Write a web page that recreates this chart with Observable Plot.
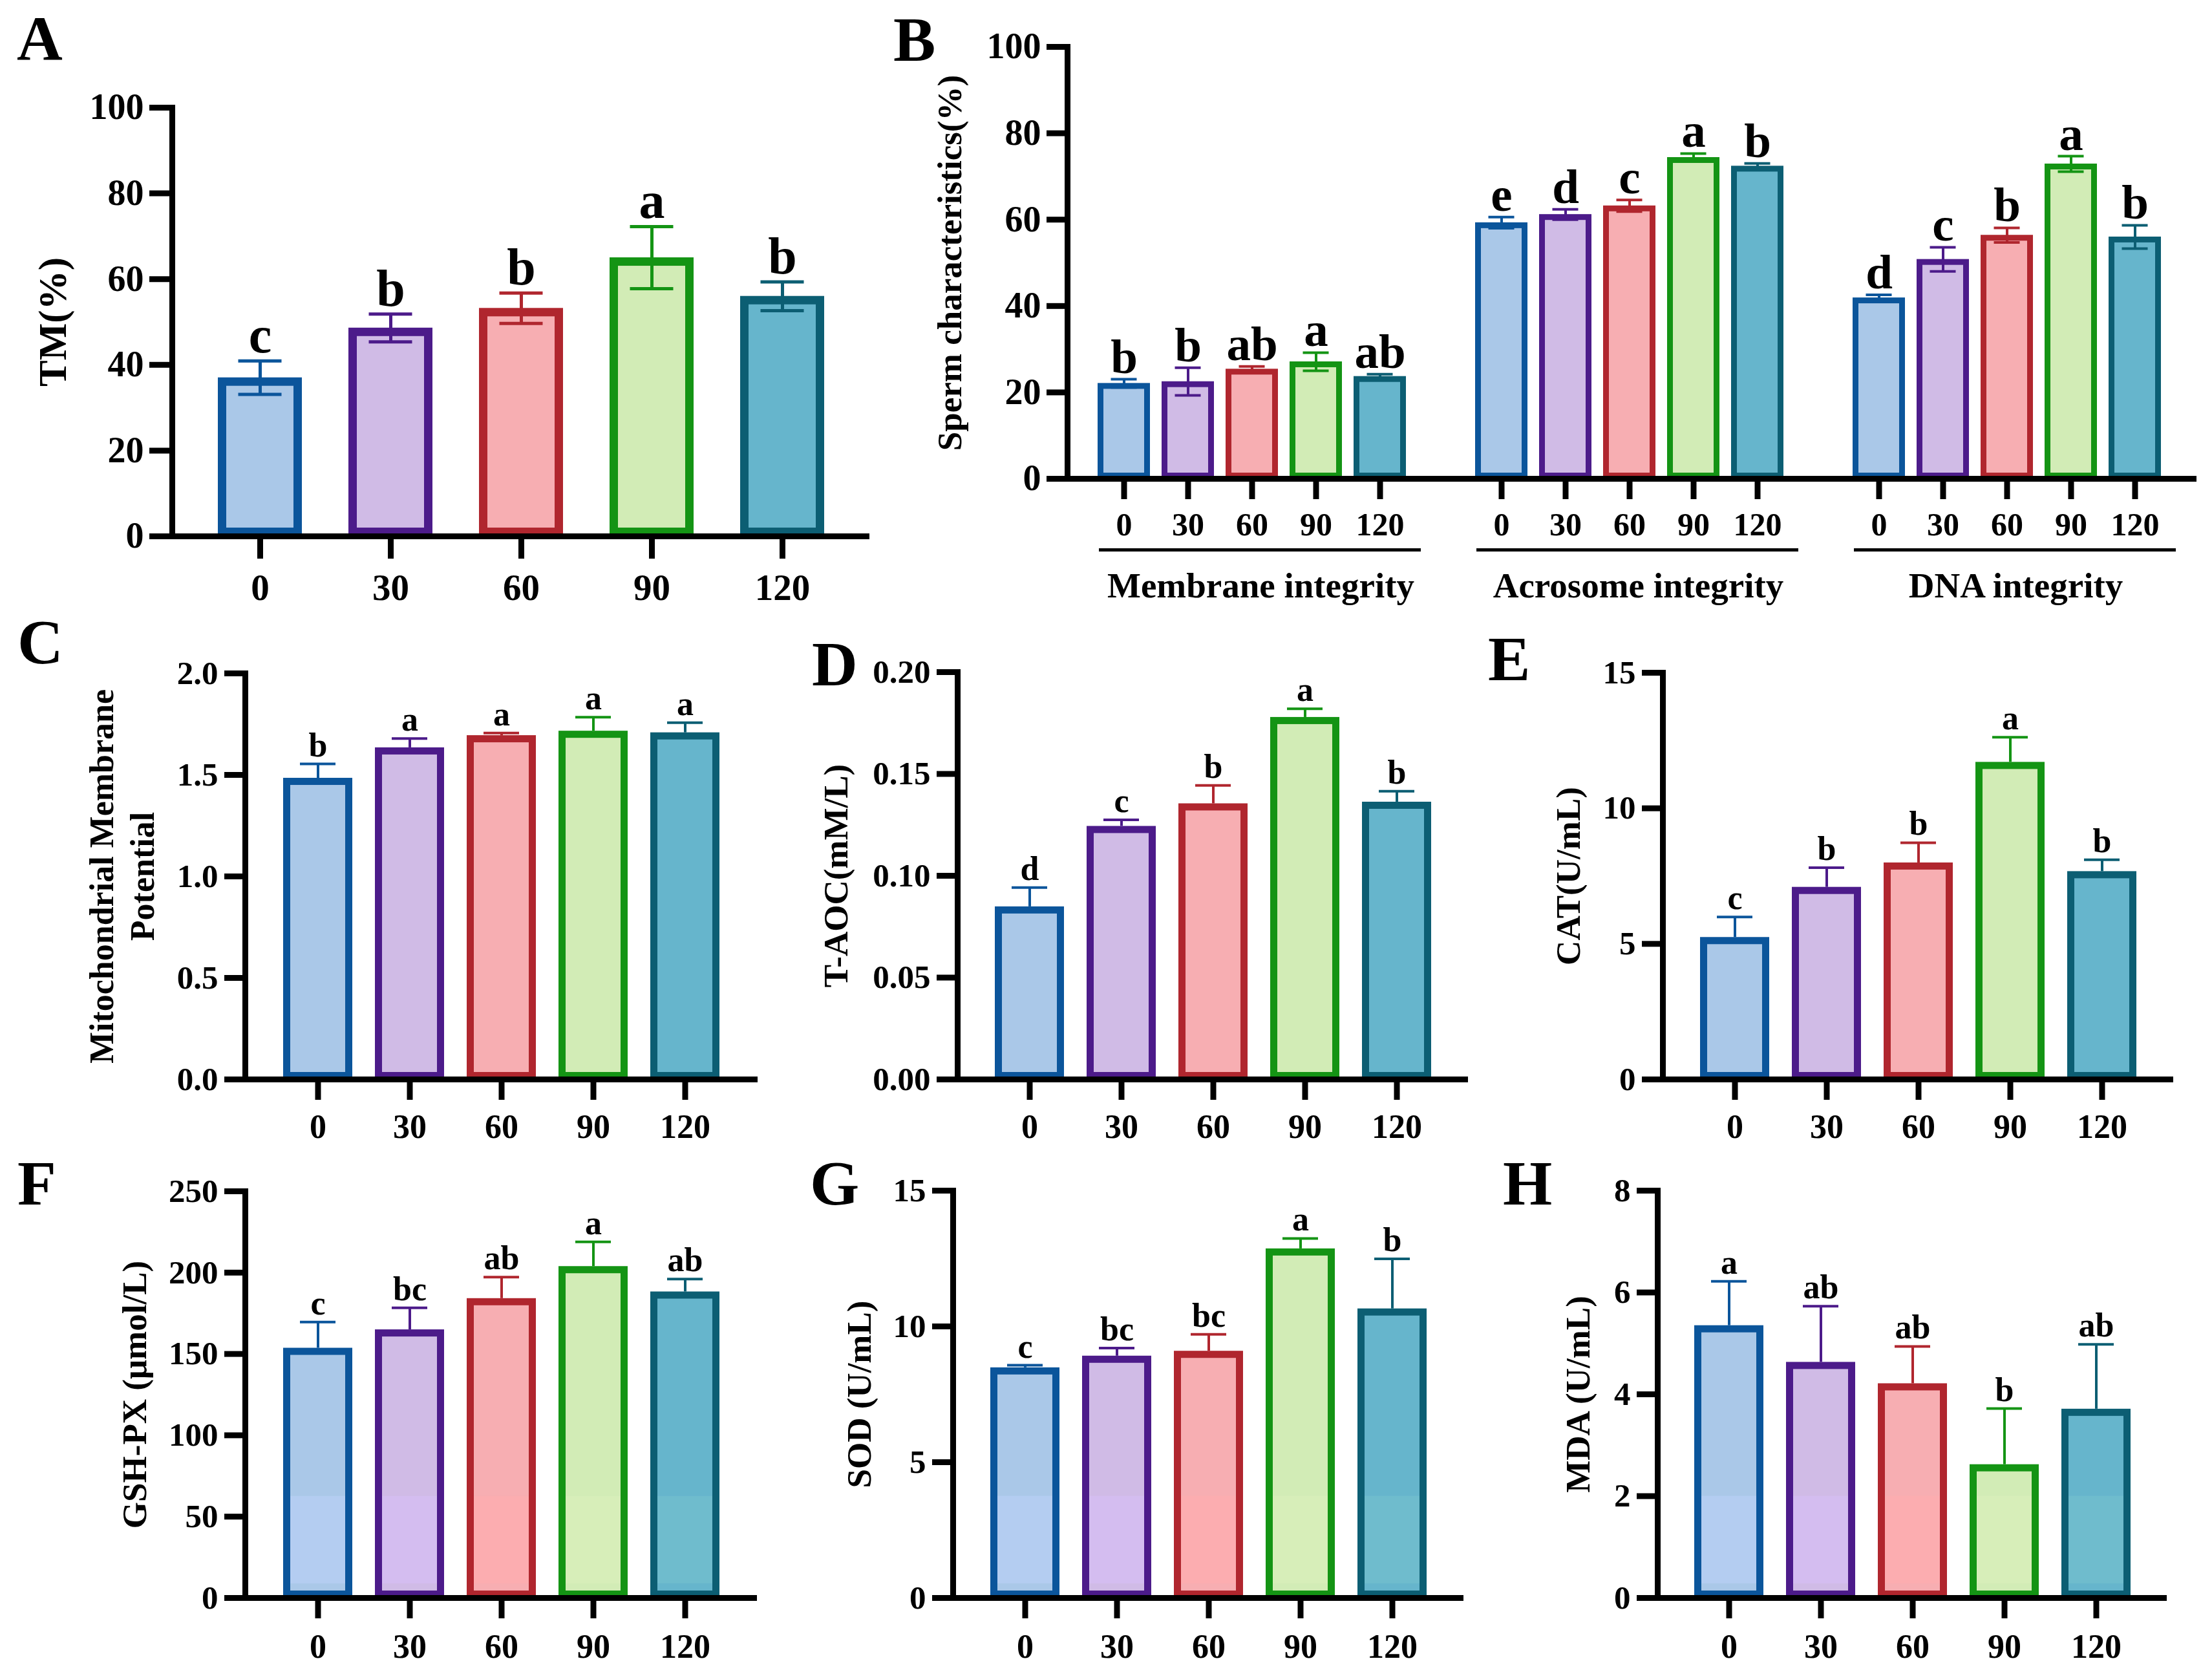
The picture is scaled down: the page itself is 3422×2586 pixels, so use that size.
<!DOCTYPE html>
<html><head><meta charset="utf-8">
<script src="https://cdn.jsdelivr.net/npm/d3@7"></script>
<script src="https://cdn.jsdelivr.net/npm/@observablehq/plot@0.6"></script>
<style>
html,body{margin:0;padding:0;background:#fff;}
#fig{position:relative;width:3422px;height:2586px;background:#fff;overflow:hidden;font-family:"Liberation Serif","Times New Roman",serif;font-weight:bold;}
.plab{position:absolute;font-size:98px;line-height:1;font-weight:bold;color:#000;}
#fig svg{position:absolute;}
</style></head><body><div id="fig"></div>
<script>
// ---------- data ----------
const doses = ["0", "30", "60", "90", "120"];
const fillColors   = ["#aac8e8", "#d0bbe6", "#f7aeb2", "#d2ecb6", "#66b5cc"];
const strokeColors = ["#0b559b", "#4c1b8a", "#b0262e", "#149414", "#0c5e73"];
const lowerFillColors = ["#b4cdf1", "#d4bdf0", "#fcadb0", "#d7eeb9", "#6fbccd"];

// A: total motility
const tmMean = [37.0, 48.6, 53.2, 65.0, 56.0];
const tmSD = [3.9, 3.25, 3.55, 7.25, 3.35];
const tmLetters = ["c", "b", "b", "a", "b"];
const tmTicks = [0, 20, 40, 60, 80, 100];

// B: sperm characteristics
const spermGroups = ["Membrane integrity", "Acrosome integrity", "DNA integrity"];
const membraneMean = [22.1, 22.5, 25.4, 27.1, 23.7];
const membraneSD = [0.95, 3.2, 0.6, 2.1, 0.5];
const membraneLetters = ["b", "b", "ab", "a", "ab"];
const acrosomeMean = [59.3, 61.2, 63.2, 74.4, 72.4];
const acrosomeSD = [1.3, 1.2, 1.35, 0.9, 0.6];
const acrosomeLetters = ["e", "d", "c", "a", "b"];
const dnaMean = [41.9, 50.8, 56.4, 72.9, 56.0];
const dnaSD = [0.7, 2.8, 1.7, 1.8, 2.7];
const dnaLetters = ["d", "c", "b", "a", "b"];
const spermTicks = [0, 20, 40, 60, 80, 100];

// C: mitochondrial membrane potential
const mmpMean = [1.484, 1.634, 1.694, 1.716, 1.708];
const mmpSD = [0.07, 0.045, 0.012, 0.068, 0.049];
const mmpLetters = ["b", "a", "a", "a", "a"];
const mmpTicks = [0, 0.5, 1.0, 1.5, 2.0];

// D: T-AOC
const taocMean = [0.0848, 0.1243, 0.1354, 0.1778, 0.1362];
const taocSD = [0.0094, 0.0032, 0.009, 0.0042, 0.0053];
const taocLetters = ["d", "c", "b", "a", "b"];
const taocTicks = [0, 0.05, 0.10, 0.15, 0.20];

// E: CAT
const catMean = [5.24, 7.09, 7.99, 11.70, 7.67];
const catSD = [0.75, 0.72, 0.74, 0.92, 0.43];
const catLetters = ["c", "b", "b", "a", "b"];
const catTicks = [0, 5, 10, 15];

// F: GSH-PX
const gshMean = [153.6, 164.9, 184.1, 203.8, 188.2];
const gshSD = [16.0, 13.5, 13.1, 15.1, 7.8];
const gshLetters = ["c", "bc", "ab", "a", "ab"];
const gshTicks = [0, 50, 100, 150, 200, 250];

// G: SOD
const sodMean = [8.48, 8.91, 9.09, 12.86, 10.65];
const sodSD = [0.09, 0.29, 0.62, 0.38, 1.84];
const sodLetters = ["c", "bc", "bc", "a", "b"];
const sodTicks = [0, 5, 10, 15];

// H: MDA
const mdaMean = [5.35, 4.63, 4.21, 2.62, 3.71];
const mdaSD = [0.87, 1.1, 0.73, 1.1, 1.27];
const mdaLetters = ["a", "ab", "ab", "b", "ab"];
const mdaTicks = [0, 2, 4, 6, 8];

// ---------- helpers ----------
const FONT = '"Liberation Serif","Times New Roman",serif';
function rows(means, sds, letters, group) {
  return doses.map((d, i) => ({dose: d, mean: means[i], sd: sds[i], letter: letters[i], group,
    fill: fillColors[i], stroke: strokeColors[i], lower: lowerFillColors[i]}));
}

const fig = document.getElementById("fig");

function makePanel(cfg) {
  const {L, R, T, B} = cfg.frame;
  const m = {left: 250, right: 40, top: 130, bottom: 230};
  const W = R - L, H = B - T;
  const data = cfg.data;
  const n = doses.length;
  const pi = 1 - cfg.barW / cfg.step;
  let fxScale = undefined, fw = W;
  if (cfg.facet) {
    const fpi = cfg.facetGap / (W / 3 + cfg.facetGap * 2 / 3);
    fxScale = {domain: spermGroups, paddingInner: fpi, paddingOuter: 0, axis: null, label: null};
    fw = (W - 2 * cfg.facetGap) / 3;
  }
  const po = (fw / cfg.step - n + pi) / 2;
  const sw = cfg.barStroke;
  const capInset = (cfg.barW - cfg.capW) / 2;
  const fxo = cfg.facet ? {fx: "group"} : {};
  const topV = d => d.mean + d.sd;
  const lowV = d => cfg.both ? d.mean - d.sd : d.mean;
  const first = cfg.facet ? [spermGroups[0]] : [0];
  const firstFx = cfg.facet ? {fx: d => d} : {};

  const marks = [
    Plot.barY(data, {...fxo, x: "dose", y: "mean", fill: "fill", stroke: "stroke", strokeWidth: sw, inset: sw / 2})
  ];
  if (cfg.band) {
    marks.push(Plot.barY(data, {...fxo, x: "dose",
      y1: () => cfg.yMax * 0.035, y2: d => Math.min(d.mean, cfg.yMax * 0.25),
      fill: "lower", insetLeft: sw, insetRight: sw}));
  }
  marks.push(
    Plot.ruleX(data, {...fxo, x: "dose", y1: lowV, y2: topV, stroke: "stroke", strokeWidth: cfg.errW}),
    Plot.tickY(data, {...fxo, x: "dose", y: topV, stroke: "stroke", strokeWidth: cfg.errW, insetLeft: capInset, insetRight: capInset})
  );
  if (cfg.both) {
    marks.push(Plot.tickY(data, {...fxo, x: "dose", y: lowV, stroke: "stroke", strokeWidth: cfg.errW, insetLeft: capInset, insetRight: capInset}));
  }
  marks.push(
    Plot.text(data, {...fxo, x: "dose", y: topV, text: "letter", dy: -cfg.letterGap, lineAnchor: "bottom",
      fontSize: cfg.letterSize, fontWeight: "bold", fill: "black"}),
    // x axis line
    Plot.ruleY([0], {stroke: "black", strokeWidth: cfg.axisW, insetLeft: cfg.facet ? -7 : -cfg.tickLen, insetRight: cfg.facet ? -7 : 0}),
    Plot.axisX({tickSize: cfg.tickLen, tickPadding: cfg.xPad, fontSize: cfg.xFont, fontWeight: "bold", strokeWidth: cfg.axisW, label: null}),
    Plot.axisY({ticks: cfg.yTicks, tickFormat: cfg.yFmt, tickSize: cfg.tickLen, tickPadding: cfg.yPad, fontSize: cfg.yFont, fontWeight: "bold", strokeWidth: cfg.axisW, label: null}),
    Plot.text(cfg.facet ? [{g: spermGroups[0], t: cfg.ylabel}] : [{t: cfg.ylabel}],
      {...(cfg.facet ? {fx: "g"} : {}), text: "t", frameAnchor: "left", rotate: -90, dx: cfg.ylabelX - L,
       textAnchor: "middle", lineAnchor: "middle", lineHeight: 1.2, fontSize: cfg.ylabelSize, fontWeight: "bold", fill: "black"})
  );
  if (cfg.facet) {
    marks.push(
      Plot.ruleY(first, {...firstFx, y: 0, stroke: "black", strokeWidth: cfg.axisW, insetLeft: -cfg.tickLen}),
      Plot.frame({anchor: "left", facetAnchor: "left", stroke: "black", strokeWidth: cfg.axisW}),
      Plot.ruleY(spermGroups, {fx: d => d, y: 0, dy: cfg.underlineDy, insetLeft: 49, insetRight: 25, stroke: "black", strokeWidth: 5}),
      Plot.text(spermGroups, {fx: d => d, text: d => d, frameAnchor: "bottom", lineAnchor: "top", dy: cfg.groupDy, dx: 13,
        fontSize: 55, fontWeight: "bold", fill: "black"})
    );
  } else {
    marks.push(Plot.frame({anchor: "left", stroke: "black", strokeWidth: cfg.axisW}));
  }

  const svg = Plot.plot({
    width: m.left + W + m.right,
    height: m.top + H + m.bottom,
    marginLeft: m.left, marginRight: m.right, marginTop: m.top, marginBottom: m.bottom,
    fx: fxScale,
    x: {domain: doses, paddingInner: pi, paddingOuter: po, align: 0.5, label: null},
    y: {domain: [0, cfg.yMax], label: null},
    color: {type: "identity"},
    style: {background: "transparent", fontFamily: FONT, fontWeight: "bold", overflow: "visible", maxWidth: "none", color: "black"},
    marks
  });
  svg.style.left = (L - m.left) + "px";
  svg.style.top = (T - m.top) + "px";
  fig.appendChild(svg);

  const lab = document.createElement("div");
  lab.className = "plab";
  lab.textContent = cfg.letter;
  lab.style.left = cfg.letterPos[0] + "px";
  lab.style.top = (cfg.letterPos[1] - 17) + "px";
  fig.appendChild(lab);
}

const small = {step: 142, barW: 107, barStroke: 11, capW: 55, errW: 4, axisW: 9, tickLen: 32,
  yFont: 51, xFont: 52, xPad: 22, yPad: 10, ylabelSize: 53, letterSize: 52, letterGap: 12, both: false};

makePanel({letter: "A", letterPos: [26, 27], frame: {L: 266, R: 1345, T: 166, B: 829},
  data: rows(tmMean, tmSD, tmLetters, null), step: 202, barW: 130, barStroke: 13, capW: 67, errW: 5, axisW: 9,
  tickLen: 35, yMax: 100, yTicks: tmTicks, yFmt: d => d, yFont: 56, xFont: 57, xPad: 23, yPad: 9,
  ylabel: "TM(%)", ylabelSize: 61, ylabelX: 78, letterSize: 80, letterGap: 13, both: true});

makePanel({letter: "B", letterPos: [1382, 29], frame: {L: 1650, R: 3392, T: 71.5, B: 739.5}, facet: true, facetGap: 12,
  data: [...rows(membraneMean, membraneSD, membraneLetters, spermGroups[0]),
         ...rows(acrosomeMean, acrosomeSD, acrosomeLetters, spermGroups[1]),
         ...rows(dnaMean, dnaSD, dnaLetters, spermGroups[2])],
  step: 100, barW: 82, barStroke: 9, capW: 41, errW: 4, axisW: 9, tickLen: 32, yMax: 100, yTicks: spermTicks, yFmt: d => d,
  yFont: 56, xFont: 50, xPad: 20, yPad: 9, ylabel: "Sperm characteristics(%)", ylabelSize: 53, ylabelX: 1465,
  letterSize: 75, letterGap: 10, both: true, underlineDy: 110, groupDy: 144});

makePanel({...small, letter: "C", letterPos: [27, 961], frame: {L: 379, R: 1172, T: 1041, B: 1669},
  data: rows(mmpMean, mmpSD, mmpLetters, null), yMax: 2, yTicks: mmpTicks, yFmt: d3.format(".1f"),
  ylabel: "Mitochondrial Membrane\nPotential", ylabelSize: 52, ylabelX: 186});

makePanel({...small, letter: "D", letterPos: [1256, 995], frame: {L: 1481, R: 2271, T: 1039, B: 1669},
  data: rows(taocMean, taocSD, taocLetters, null), yMax: 0.2, yTicks: taocTicks, yFmt: d3.format(".2f"),
  ylabel: "T-AOC(mM/L)", ylabelX: 1290});

makePanel({...small, letter: "E", letterPos: [2302, 987], frame: {L: 2572, R: 3362, T: 1040, B: 1669},
  data: rows(catMean, catSD, catLetters, null), yMax: 15, yTicks: catTicks, yFmt: d => d,
  ylabel: "CAT(U/mL)", ylabelX: 2423});

makePanel({...small, letter: "F", letterPos: [27, 1798], frame: {L: 379, R: 1171, T: 1842, B: 2471},
  data: rows(gshMean, gshSD, gshLetters, null), yMax: 250, yTicks: gshTicks, yFmt: d => d, xPad: 24, band: true,
  ylabel: "GSH-PX (μmol/L)", ylabelX: 205});

makePanel({...small, letter: "G", letterPos: [1253, 1798], frame: {L: 1474, R: 2264, T: 1841, B: 2471},
  data: rows(sodMean, sodSD, sodLetters, null), yMax: 15, yTicks: sodTicks, yFmt: d => d, xPad: 24, band: true,
  ylabel: "SOD (U/mL)", ylabelX: 1326});

makePanel({...small, letter: "H", letterPos: [2325, 1798], frame: {L: 2564, R: 3352, T: 1841, B: 2471},
  data: rows(mdaMean, mdaSD, mdaLetters, null), yMax: 8, yTicks: mdaTicks, yFmt: d => d, xPad: 24, band: true,
  ylabel: "MDA (U/mL)", ylabelX: 2438});
</script></body></html>
